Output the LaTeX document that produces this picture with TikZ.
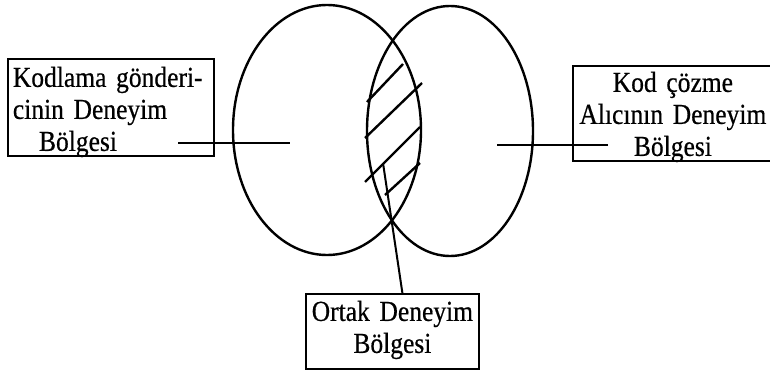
\documentclass[tikz,border=0pt]{standalone}
\usepackage{fontspec}
\setmainfont{Liberation Serif}[FakeStretch=0.88,FakeBold=0.5]
\usepackage{tikz}
\usetikzlibrary{positioning,shapes.geometric,calc}

\begin{document}
\begin{tikzpicture}[
  x=1pt, y=-1pt,
  font=\fontsize{29}{32}\selectfont,
  zone/.style={ellipse, draw=black, line width=2.4pt, inner sep=0pt},
  box/.style={rectangle, draw=black, line width=1.8pt, inner xsep=5pt, inner ysep=0pt},
  lead/.style={line width=2pt, black},
  hatch/.style={line width=2.4pt, black}
]
\useasboundingbox (0,0) rectangle (770,377);
\clip (0,0) rectangle (770,377);

% --- Experience zones ---
\node[zone, minimum width=188, minimum height=250] (sendzone) at (327,130) {};
\node[zone, minimum width=166, minimum height=250] (recvzone) at (450,131) {};

% --- Shared region hatching ---
\foreach \xa/\ya/\xb/\yb in {367/102/403/64, 365/138/422/83, 365/182/420/127, 385/195/420/163}
  \draw[hatch] (\xa,\ya) -- (\xb,\yb);

% --- Labels ---
\node[box, anchor=north west, text width=196, text height=28, text depth=69, align=left] (sender) at (7,58)
  {Kodlama gönderi-\\cinin Deneyim\\\hspace*{0.9em}Bölgesi};
\node[box, anchor=north west, text width=190, text height=26, text depth=69, align=center] (receiver) at (572,65)
  {Kod çözme\\Alıcının Deneyim\\Bölgesi};
\node[box, inner xsep=4pt, anchor=north west, text width=165, text height=27, text depth=48, align=center] (common) at (305,293)
  {Ortak Deneyim\\Bölgesi};

% --- Leader lines ---
\coordinate (sendtail) at (178,143);
\coordinate (sendhead) at (290,143);
\coordinate (recvhead) at (497,145);
\coordinate (recvtail) at (608,145);
\coordinate (lenspt) at (383,163);
\draw[lead] (sendtail) -- (sendhead);
\draw[lead] (recvtail) -- (recvhead);
\draw[lead] (lenspt) -- ($(common.north)+(10,0)$);

\end{tikzpicture}
\end{document}
